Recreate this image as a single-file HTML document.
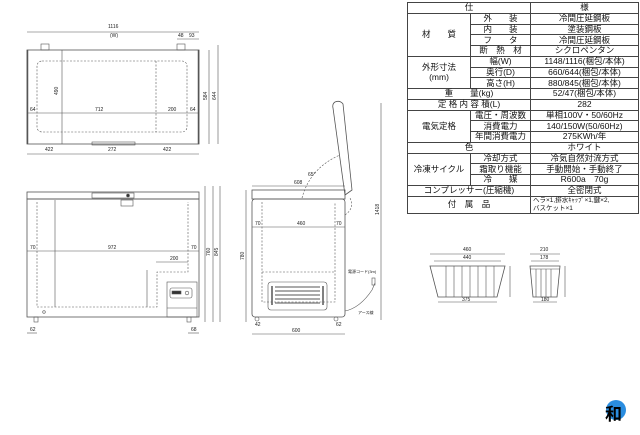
<!DOCTYPE html>
<html><head><meta charset="utf-8"><style>
body{margin:0;width:640px;height:435px;background:#fff;overflow:hidden;font-family:"Liberation Sans","Noto Sans CJK JP",sans-serif}
svg text{font-family:"Liberation Sans","Noto Sans CJK JP",sans-serif;fill:#222}
table{position:absolute;left:407px;top:2px;border-collapse:collapse;font-size:8.5px;color:#111}
td{border:1px solid #444;padding:0;height:9.75px;line-height:8.8px;text-align:center;white-space:nowrap}
</style></head><body>
<table>
<colgroup><col style="width:63px"><col style="width:60px"><col style="width:108px"></colgroup>
<tr><td colspan="2">仕</td><td>様</td></tr>
<tr><td rowspan="4">材　　質</td><td>外　　装</td><td>冷間圧延鋼板</td></tr>
<tr><td>内　　装</td><td>塗装鋼板</td></tr>
<tr><td>フ　　タ</td><td>冷間圧延鋼板</td></tr>
<tr><td>断　熱　材</td><td>シクロペンタン</td></tr>
<tr><td rowspan="3" style="line-height:10px">外形寸法<br>(mm)</td><td>幅(W)</td><td>1148/1116(梱包/本体)</td></tr>
<tr><td>奥行(D)</td><td>660/644(梱包/本体)</td></tr>
<tr><td>高さ(H)</td><td>880/845(梱包/本体)</td></tr>
<tr><td colspan="2">重　　量(kg)</td><td>52/47(梱包/本体)</td></tr>
<tr><td colspan="2">定 格 内 容 積(L)</td><td>282</td></tr>
<tr><td rowspan="3">電気定格</td><td>電圧・周波数</td><td>単相100V・50/60Hz</td></tr>
<tr><td>消費電力</td><td>140/150W(50/60Hz)</td></tr>
<tr><td>年間消費電力</td><td>275KWh/年</td></tr>
<tr><td colspan="2">色</td><td>ホワイト</td></tr>
<tr><td rowspan="3">冷凍サイクル</td><td>冷却方式</td><td>冷気自然対流方式</td></tr>
<tr><td>霜取り機能</td><td>手動開始・手動終了</td></tr>
<tr><td>冷　　媒</td><td>R600a　70g</td></tr>
<tr><td colspan="2">コンプレッサー(圧縮機)</td><td>全密閉式</td></tr>
<tr><td colspan="2" style="height:16px">付　属　品</td><td style="font-size:6.5px;text-align:left;line-height:8px;padding-left:2px">ヘラ×1,排水ｷｬｯﾌﾟ×1,鍵×2,<br>バスケット×1</td></tr>
</table>
<svg width="640" height="435" style="position:absolute;left:0;top:0" stroke="#555" fill="none" stroke-width="0.6">
<g font-size="5">
<line x1="27" y1="32" x2="199" y2="32"/><text x="108" y="28" stroke="none">1116</text><text x="110" y="37" stroke="none">(W)</text>
<line x1="177" y1="39" x2="199" y2="39"/><text x="178" y="37" stroke="none">48</text><text x="189" y="37" stroke="none">93</text>
<rect x="41" y="44" width="8" height="6"/><rect x="177" y="44" width="8" height="6"/>
<rect x="27" y="50" width="172" height="94" stroke-width="0.8"/>
<line x1="27.5" y1="50" x2="27.5" y2="144" stroke-width="1.5"/><line x1="198.5" y1="50" x2="198.5" y2="144" stroke-width="1.5"/>
<rect x="37" y="61" width="150" height="71" rx="5" stroke-dasharray="2,1.5"/>
<line x1="156" y1="61" x2="156" y2="132" stroke-dasharray="2,1.5"/>
<line x1="62" y1="50" x2="62" y2="144"/>
<line x1="27" y1="113" x2="199" y2="113"/>
<text x="30" y="111" stroke="none">64</text><text x="95" y="111" stroke="none">712</text><text x="168" y="111" stroke="none">200</text><text x="190" y="111" stroke="none">64</text>
<text x="58" y="95" stroke="none" transform="rotate(-90 58 95)">490</text>
<rect x="92" y="142" width="43" height="3"/>
<line x1="27" y1="154" x2="199" y2="154"/>
<text x="45" y="151" stroke="none">422</text><text x="108" y="151" stroke="none">272</text><text x="163" y="151" stroke="none">422</text>
<line x1="209" y1="50" x2="209" y2="144"/><line x1="218" y1="45" x2="218" y2="144"/>
<text x="207" y="100" stroke="none" transform="rotate(-90 207 100)">584</text>
<text x="216" y="100" stroke="none" transform="rotate(-90 216 100)">644</text>
</g>
<g font-size="5">
<rect x="27" y="192" width="172" height="7" stroke-width="0.8"/>
<rect x="92" y="193" width="42" height="5"/><circle cx="128" cy="195.5" r="1.5" fill="#333"/>
<rect x="121" y="200" width="12" height="6"/>
<rect x="27" y="199" width="172" height="118" stroke-width="0.8"/>
<path d="M37 202 V307 H157 V272 H188 V202" stroke-dasharray="2,1.5"/>
<line x1="55" y1="200" x2="55" y2="307"/>
<line x1="27" y1="251" x2="199" y2="251"/>
<text x="30" y="249" stroke="none">70</text><text x="108" y="249" stroke="none">972</text><text x="191" y="249" stroke="none">70</text>
<line x1="156" y1="262" x2="188" y2="262"/><text x="170" y="260" stroke="none">200</text>
<line x1="147" y1="270" x2="147" y2="307"/>
<rect x="167" y="282" width="30" height="35"/><rect x="170" y="288" width="22" height="10" rx="2"/>
<rect x="172" y="291" width="9" height="3" fill="#333"/><circle cx="187" cy="293" r="1.8"/>
<line x1="167" y1="308" x2="197" y2="308"/>
<rect x="34" y="317" width="4" height="5"/><rect x="187" y="317" width="4" height="5"/>
<circle cx="44" cy="312" r="1.3"/>
<line x1="205" y1="186" x2="205" y2="322"/><line x1="213" y1="186" x2="213" y2="322"/><line x1="220" y1="186" x2="220" y2="322"/>
<text x="210" y="256" stroke="none" transform="rotate(-90 210 256)">760</text>
<text x="218" y="256" stroke="none" transform="rotate(-90 218 256)">845</text>
<line x1="27" y1="333" x2="37" y2="333"/><text x="30" y="331" stroke="none">62</text>
<line x1="188" y1="333" x2="199" y2="333"/><text x="191" y="331" stroke="none">68</text>
</g>
<g font-size="5">
<line x1="252" y1="186" x2="345" y2="186"/><text x="294" y="184" stroke="none">608</text>
<rect x="252" y="190" width="93" height="9" stroke-width="0.8"/>
<rect x="252" y="199" width="93" height="118" rx="3" stroke-width="0.8"/>
<path d="M345 195 L352 190 L343 104 Q340 100 335 102 Q332 104 333 108 Z" stroke-width="0.8"/>
<path d="M302 198 Q310 168 340 155" stroke-dasharray="2,1.5"/>
<path d="M345 215 Q355 208 350 198" stroke-dasharray="2,1.5"/>
<text x="308" y="176" stroke="none">65°</text>
<path d="M262 202 V302 H335 V202" stroke-dasharray="2,1.5"/>
<line x1="262" y1="272" x2="335" y2="272" stroke-dasharray="2,1.5"/>
<line x1="252" y1="227" x2="345" y2="227"/>
<text x="255" y="225" stroke="none">70</text><text x="297" y="225" stroke="none">460</text><text x="336" y="225" stroke="none">70</text>
<rect x="268" y="282" width="59" height="28" rx="3"/>
<g stroke-width="1.2" stroke="#777"><line x1="275" y1="287" x2="320" y2="287"/><line x1="275" y1="291" x2="320" y2="291"/><line x1="275" y1="295" x2="320" y2="295"/><line x1="275" y1="299" x2="320" y2="299"/><line x1="275" y1="303" x2="320" y2="303"/></g>
<line x1="272" y1="286" x2="272" y2="305" stroke-width="1.5"/><line x1="323" y1="286" x2="323" y2="305" stroke-width="1.5"/>
<path d="M345 311 Q360 308 372 290 L375 283"/><rect x="372" y="278" width="3" height="7"/>
<text x="348" y="273" stroke="none" font-size="4">電源コード(3m)</text><text x="358" y="314" stroke="none" font-size="4">アース線</text>
<circle cx="257" cy="319" r="2"/><circle cx="336" cy="319" r="2"/>
<line x1="246" y1="190" x2="246" y2="322"/>
<text x="244" y="260" stroke="none" transform="rotate(-90 244 260)">780</text>
<line x1="381" y1="103" x2="381" y2="320"/><text x="379" y="215" stroke="none" transform="rotate(-90 379 215)">1418</text>
<line x1="252" y1="334" x2="345" y2="334"/><text x="292" y="332" stroke="none">600</text>
<text x="255" y="326" stroke="none">42</text><text x="336" y="326" stroke="none">62</text>
</g>
<g font-size="5">
<line x1="430" y1="254" x2="505" y2="254"/><text x="463" y="251" stroke="none">460</text>
<line x1="434" y1="261" x2="501" y2="261"/><text x="463" y="259" stroke="none">440</text>
<path d="M430 266 H505 L497 297 H438 Z" stroke-width="0.8"/>
<path d="M446 266V297M454 266V297M462 266V297M470 266V297M478 266V297M486 266V297M494 266V297"/>
<line x1="438" y1="302" x2="497" y2="302"/><text x="462" y="301" stroke="none">375</text>
<line x1="510" y1="266" x2="510" y2="297"/>
<line x1="530" y1="254" x2="560" y2="254"/><text x="540" y="251" stroke="none">210</text>
<line x1="531" y1="261" x2="559" y2="261"/><text x="540" y="259" stroke="none">178</text>
<path d="M530 266 H560 L557 297 H533 Z" stroke-width="0.8"/>
<path d="M536 269V297M541 269V297M546 269V297M551 269V297M530 269H560"/>
<line x1="533" y1="302" x2="557" y2="302"/><text x="541" y="301" stroke="none">180</text>
<line x1="565" y1="266" x2="565" y2="297"/>
</g>
<circle cx="616" cy="410" r="10" fill="#2a8de0" stroke="none"/>
<text x="605" y="420" font-size="17" font-weight="bold" stroke="none" style="fill:#000">和</text>
</svg>
</body></html>
